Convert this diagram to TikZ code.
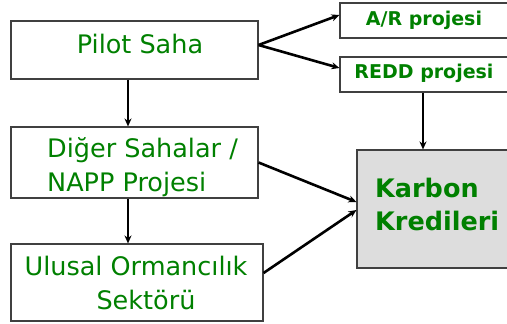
\documentclass[tikz,border=0pt]{standalone}
\usepackage{fontspec}
\setmainfont{DejaVu Sans}
\usetikzlibrary{arrows.meta}
\definecolor{tgreen}{RGB}{0,128,0}
\definecolor{kgray}{RGB}{221,221,221}
\begin{document}
\begin{tikzpicture}[x=1pt,y=-1pt,
  box/.style={draw=black!75,line width=1.1pt,inner sep=0pt},
  arr/.style={line width=2.6pt,-{Stealth[length=8pt,width=7pt]}},
  reg/.style={text=tgreen,font=\fontsize{25.5}{30}\selectfont,inner sep=0pt,anchor=base},
  bld/.style={text=tgreen,font=\bfseries\fontsize{19}{23}\selectfont,inner sep=0pt,anchor=base},
  big/.style={text=tgreen,font=\bfseries\fontsize{25.5}{30}\selectfont,inner sep=0pt,anchor=base west}]
\clip (0,0) rectangle (507,324);
% boxes
\node[box,minimum width=247pt,minimum height=58pt] (pilot) at (134.5,50) {};
\node[box,minimum width=170pt,minimum height=35pt] (ar) at (425,20.5) {};
\node[box,minimum width=170pt,minimum height=35pt] (redd) at (425,74.5) {};
\node[box,minimum width=247pt,minimum height=71pt] (diger) at (134.5,162.5) {};
\node[box,minimum width=252pt,minimum height=77pt] (ulusal) at (137,282.5) {};
\node[box,fill=kgray,minimum width=153pt,minimum height=118pt] (karbon) at (433.5,209) {};
% texts
\node[reg] (tpilot) at (140,53) {Pilot Saha};
\node[bld] (tar) at (424,26) {A/R projesi};
\node[bld] (tredd) at (424,78) {REDD projesi};
\node[reg,anchor=base west] (tdiger1) at (47,157.5) {Diğer Sahalar /};
\node[reg,anchor=base west] (tdiger2) at (47,191) {NAPP Projesi};
\node[reg] (tulusal1) at (136,275.5) {Ulusal Ormancılık};
\node[reg] (tulusal2) at (146,309) {Sektörü};
\node[big] (tkarbon1) at (375,197.3) {Karbon};
\node[big] (tkarbon2) at (375,230.7) {Kredileri};
% connectors
\draw[arr] ([xshift=-6.5pt]pilot.south) -- ([xshift=-6.5pt]diger.north);
\draw[arr] ([xshift=-6.5pt]diger.south) -- ([xshift=-9pt]ulusal.north);
\draw[arr] ([yshift=5pt]pilot.east) -- ([yshift=5.5pt]ar.west);
\draw[arr] ([yshift=5pt]pilot.east) -- ([yshift=6.5pt]redd.west);
\draw[arr] ([xshift=-2pt]redd.south) -- ([xshift=-10.5pt]karbon.north);
\draw[arr] (diger.east) -- ([yshift=7pt]karbon.west);
\draw[arr] ([yshift=9.5pt]ulusal.east) -- ([yshift=-1pt]karbon.west);
\end{tikzpicture}
\end{document}
